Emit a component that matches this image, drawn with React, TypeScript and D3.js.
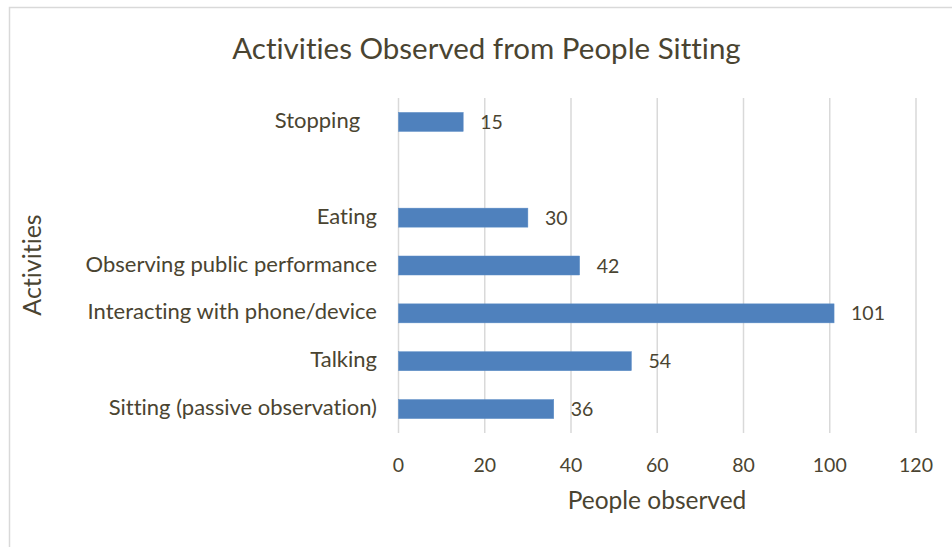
import React from "react";
import * as d3 from "d3";

const categories = [
  "Stopping   ",
  "",
  "Eating",
  "Observing public performance",
  "Interacting with phone/device",
  "Talking",
  "Sitting (passive observation)",
];
const values: (number | null)[] = [15, null, 30, 42, 101, 54, 36];
const xTicks = [0, 20, 40, 60, 80, 100, 120];

const W = 952;
const H = 547;
const FONT = "Lato, 'Open Sans', sans-serif";
const TXT = "#4a4431";

export default function App() {
  const x = d3.scaleLinear().domain([0, 120]).range([398.5, 916]);
  const step = (433 - 98) / categories.length;
  const bh = 19;
  return (
    <svg
      width={W}
      height={H}
      style={{ position: "absolute", left: 0, top: 0, background: "#fff", fontVariantLigatures: "none", whiteSpace: "pre" }}
      fontFamily={FONT}
    >
      <rect x={9.5} y={7.5} width={980} height={600} fill="#fff" stroke="#d9d9d9" strokeWidth={1.5} />
      <text x={486.5} y={59} textAnchor="middle" fontSize={29.5} fill={TXT}>
        Activities Observed from People Sitting
      </text>
      {xTicks.map((t) => (
        <g key={t}>
          <line x1={x(t)} x2={x(t)} y1={98} y2={433} stroke="#d9d9d9" strokeWidth={1.5} />
          <text x={x(t)} y={472} textAnchor="middle" fontSize={19.5} fill={TXT}>
            {t}
          </text>
        </g>
      ))}
      {categories.map((c, i) => {
        const cy = 98 + step * (i + 0.5);
        const v = values[i];
        return (
          <g key={i}>
            {c && (
              <text x={377} y={cy + 6} textAnchor="end" fontSize={22} fill={TXT} style={{ whiteSpace: "pre" }}>
                {c}
              </text>
            )}
            {v != null && (
              <>
                <rect x={x(0)} y={cy - bh / 2} width={x(v) - x(0)} height={bh} fill="#4f81bd" stroke="#5b8cc6" strokeWidth={0.5} />
                <text x={x(v) + 17} y={cy + 7} fontSize={19.5} fill={TXT}>
                  {v}
                </text>
              </>
            )}
          </g>
        );
      })}
      <text x={657} y={509} textAnchor="middle" fontSize={24.5} fill={TXT}>
        People observed
      </text>
      <text transform={`translate(41,265) rotate(-90)`} textAnchor="middle" fontSize={25} fill={TXT}>
        Activities
      </text>
    </svg>
  );
}
